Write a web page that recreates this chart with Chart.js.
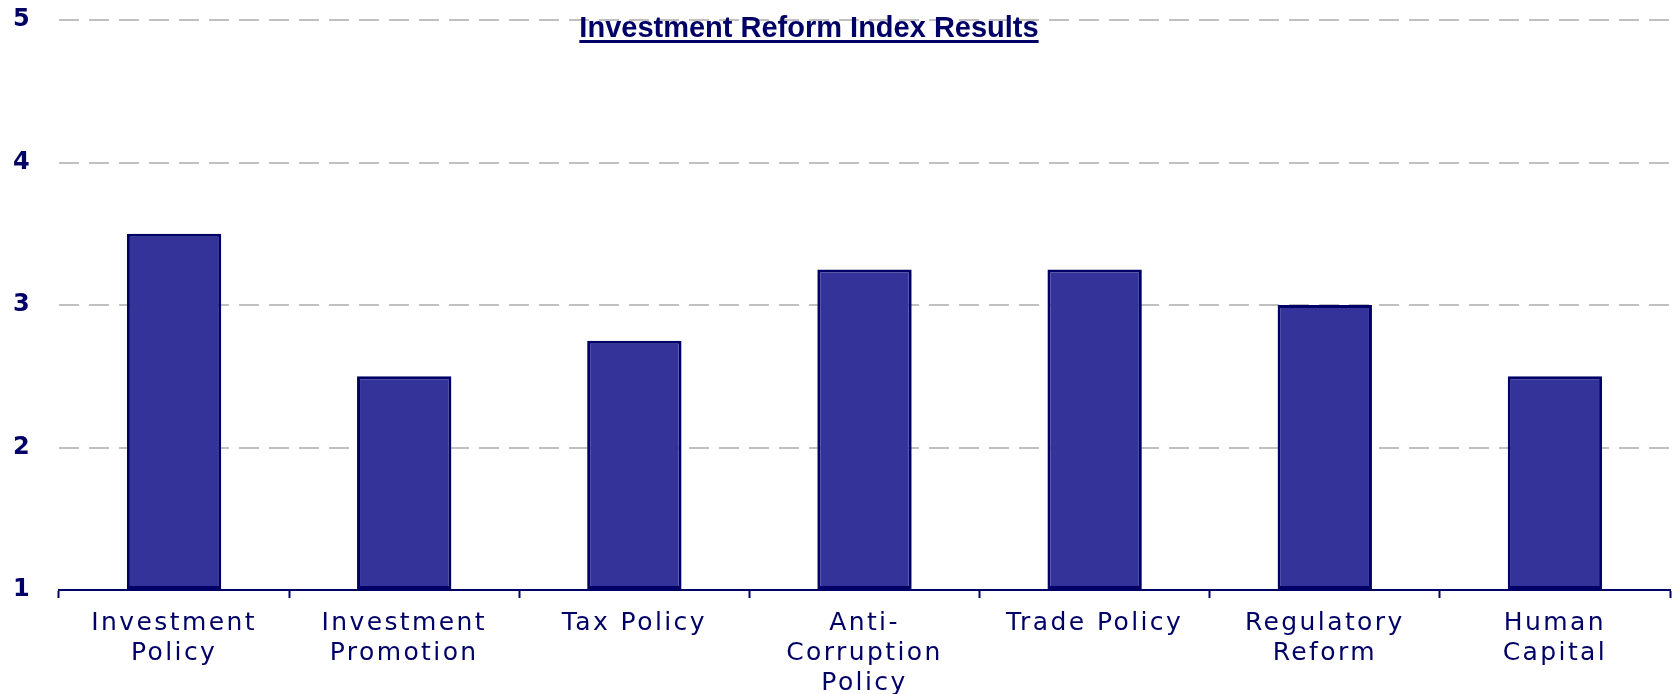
<!DOCTYPE html>
<html>
<head>
<meta charset="utf-8">
<title>Investment Reform Index Results</title>
<script src="https://cdn.jsdelivr.net/npm/chart.js@4.4.1/dist/chart.umd.min.js"></script>
<style>
  html, body { margin: 0; padding: 0; background: #ffffff; }
  #wrap { width: 1672px; height: 694px; }
</style>
</head>
<body>
<div id="wrap"><canvas id="BarChart"></canvas></div>
<script>

  let chartTitle = 'Investment Reform Index Results';

  let categories = [
    ['Investment', 'Policy'],
    ['Investment', 'Promotion'],
    'Tax Policy',
    ['Anti-', 'Corruption', 'Policy'],
    'Trade Policy',
    ['Regulatory', 'Reform'],
    ['Human', 'Capital'],
  ];

  let indexScores = [3.5, 2.5, 2.75, 3.25, 3.25, 3.0, 2.5];

  let yTicks = [1, 2, 3, 4, 5];

  const navy = '#000066';

  // the source labels look stretched sideways, so space the letters out a bit
  const spacingPlugin = {
    id: 'spacing',
    beforeLayout(chart) { chart.ctx.letterSpacing = '2.4px'; },
    beforeDraw(chart) { chart.ctx.letterSpacing = '2.4px'; }
  };

  // underlined title sitting on top of the plot, over the top grid line
  const titlePlugin = {
    id: 'underlinedTitle',
    afterDraw(chart) {
      const ctx = chart.ctx;
      ctx.save();
      ctx.letterSpacing = '0px';
      ctx.font = 'bold 29px "Liberation Sans", Arial, sans-serif';
      ctx.fillStyle = navy;
      ctx.textAlign = 'center';
      ctx.textBaseline = 'alphabetic';
      const cx = 809;
      const baseY = 37;
      ctx.fillText(chartTitle, cx, baseY);
      const w = ctx.measureText(chartTitle).width;
      ctx.fillRect(cx - w / 2, baseY + 3, w, 3);
      ctx.restore();
    }
  };

  function drawBarChart() {
    const ctx = document.getElementById('BarChart').getContext('2d');
    const data = {
      labels: categories,
      datasets: [{
        data: indexScores,
        base: yTicks[0],
        backgroundColor: '#333399',
        borderColor: navy,
        borderWidth: 3,
        borderSkipped: false,
        barPercentage: 0.41,
        categoryPercentage: 1.0
      }]
    };
    const options = {
      responsive: true,
      maintainAspectRatio: false,
      animation: false,
      layout: {
        padding: { left: 13, right: 2, top: 20, bottom: -14 }
      },
      plugins: {
        legend: { display: false },
        title: { display: false },
        tooltip: { enabled: false }
      },
      scales: {
        x: {
          grid: {
            offset: true,
            drawOnChartArea: false,
            drawTicks: true,
            tickLength: 8,
            tickColor: navy,
            tickWidth: 2
          },
          border: { display: true, color: navy, width: 2 },
          ticks: {
            color: navy,
            maxRotation: 0,
            autoSkip: false,
            padding: 10,
            font: { family: '"DejaVu Sans", sans-serif', size: 25, lineHeight: 1.2 }
          }
        },
        y: {
          min: yTicks[0],
          max: yTicks[yTicks.length - 1],
          afterBuildTicks: (scale) => {
            scale.ticks = yTicks.map(v => ({ value: v }));
          },
          afterFit: (scale) => { scale.width = 46; },
          grid: {
            color: '#c0c0c0',
            lineWidth: 2,
            drawTicks: false
          },
          border: { display: false, dash: [20, 10] },
          ticks: {
            color: navy,
            crossAlign: 'far',
            padding: 0,
            font: { family: '"DejaVu Sans", sans-serif', size: 24, weight: 'bold' }
          }
        }
      }
    };
    new Chart(ctx, {
      type: 'bar',
      data: data,
      options: options,
      plugins: [spacingPlugin, titlePlugin]
    });
  }

  document.addEventListener('DOMContentLoaded', () => {
    drawBarChart();
  });

</script>
</body>
</html>
